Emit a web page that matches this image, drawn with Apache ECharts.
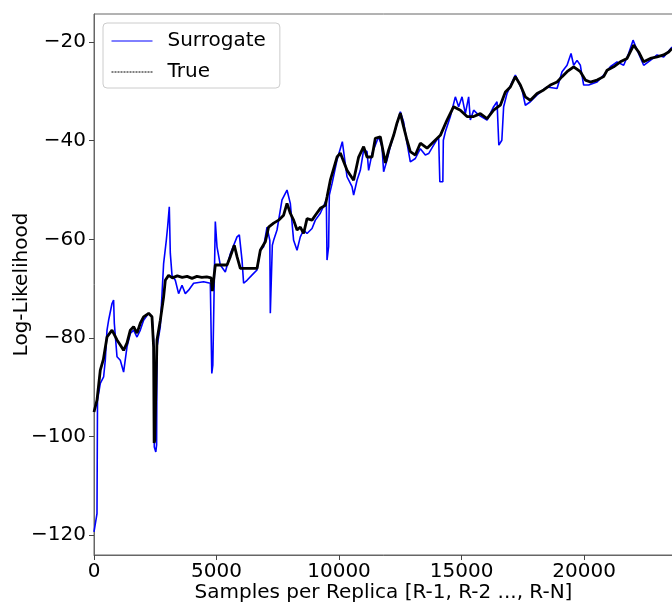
<!DOCTYPE html>
<html>
<head>
<meta charset="utf-8">
<script src="https://cdn.jsdelivr.net/npm/echarts@6/dist/echarts.min.js"></script>
<style>
  html, body { margin: 0; padding: 0; background: #fff; }
  #main { width: 672px; height: 604px; }
</style>
</head>
<body>
<div id="main"></div>
<script>
// 数据：采样数 / 对数似然
var xTicks = [0, 5000, 10000, 15000, 20000];
var yTicks = [-120, -100, -80, -60, -40, -20];

var surrogateX = [0, 122, 143, 257, 392, 461, 531, 596, 735, 800, 829, 939, 1073, 1208, 1347, 1482, 1616, 1755, 1890, 2024, 2229, 2367, 2433, 2461, 2522, 2555, 2571, 2706, 2841, 2951, 3004, 3073, 3114, 3184, 3318, 3453, 3592, 3727, 3861, 4065, 4473, 4747, 4808, 4849, 4951, 5020, 5155, 5359, 5563, 5837, 5931, 6041, 6106, 6245, 6514, 6653, 6788, 6922, 7061, 7176, 7196, 7237, 7278, 7331, 7469, 7673, 7877, 8012, 8147, 8286, 8420, 8555, 8694, 8898, 9033, 9237, 9482, 9510, 9575, 9604, 9714, 9918, 10135, 10326, 10530, 10596, 10735, 10869, 11004, 11143, 11208, 11347, 11616, 11755, 11820, 11959, 12094, 12298, 12502, 12637, 12775, 12910, 13114, 13318, 13522, 13657, 13861, 14065, 14114, 14237, 14257, 14339, 14543, 14747, 14882, 15020, 15155, 15290, 15359, 15494, 15698, 16041, 16310, 16449, 16522, 16645, 16718, 16857, 17061, 17196, 17469, 17604, 17808, 18082, 18490, 18898, 19102, 19306, 19469, 19576, 19714, 19849, 19984, 20188, 20531, 20800, 21073, 21347, 21616, 21820, 22000, 22163, 22433, 22706, 22980, 23249, 23592];
var surrogateY = [-119.3, -115.6, -92.6, -89.2, -87.9, -84.5, -78.4, -76.4, -73.0, -72.3, -77.0, -83.8, -84.5, -86.9, -81.8, -79.1, -78.4, -79.8, -78.4, -76.4, -75.0, -75.7, -80.4, -102.1, -103.1, -101.7, -81.8, -77.7, -64.9, -60.2, -57.5, -53.4, -62.8, -67.3, -68.3, -71.0, -69.3, -71.0, -70.3, -68.9, -68.6, -68.9, -87.2, -85.5, -56.4, -61.5, -65.2, -66.6, -62.9, -59.5, -59.1, -64.2, -68.9, -68.3, -66.9, -66.2, -62.2, -61.5, -57.5, -60.2, -75.0, -75.4, -61.2, -60.2, -58.1, -52.0, -50.0, -52.7, -60.2, -62.2, -59.5, -58.1, -58.8, -57.8, -56.1, -54.7, -52.0, -64.2, -61.5, -51.0, -48.7, -43.9, -40.2, -47.3, -49.3, -51.0, -48.0, -46.0, -41.9, -42.2, -46.0, -42.6, -39.2, -41.2, -46.3, -43.9, -41.2, -37.8, -34.1, -36.2, -40.5, -44.3, -43.6, -41.6, -42.9, -42.6, -40.9, -39.2, -48.3, -48.3, -39.9, -38.2, -35.1, -31.1, -33.1, -31.1, -34.5, -31.1, -35.8, -33.8, -34.8, -35.8, -33.1, -32.1, -40.9, -39.9, -33.1, -30.4, -28.1, -26.7, -29.7, -32.8, -32.1, -30.7, -29.1, -29.4, -26.0, -24.7, -22.3, -24.7, -23.7, -24.7, -28.7, -28.7, -28.1, -26.7, -25.0, -24.0, -24.7, -22.3, -19.6, -21.6, -24.7, -23.7, -22.6, -23.0, -21.0];

var trueX = [0, 122, 257, 380, 531, 735, 939, 1073, 1208, 1347, 1482, 1616, 1755, 1890, 2024, 2229, 2367, 2433, 2455, 2480, 2571, 2706, 2841, 2910, 3045, 3200, 3400, 3600, 3800, 4000, 4200, 4400, 4600, 4780, 4830, 4951, 5429, 5563, 5726, 5837, 5971, 6653, 6788, 6992, 7126, 7331, 7534, 7739, 7877, 8012, 8147, 8286, 8420, 8555, 8694, 8898, 9033, 9237, 9441, 9510, 9645, 9918, 10053, 10326, 10596, 10800, 11004, 11143, 11347, 11481, 11686, 11890, 12024, 12229, 12367, 12502, 12637, 12775, 12910, 13114, 13318, 13592, 13861, 14135, 14408, 14678, 14951, 15224, 15494, 15767, 16041, 16310, 16584, 16788, 16992, 17196, 17400, 17604, 17808, 18082, 18351, 18624, 18898, 19102, 19306, 19576, 19849, 20053, 20257, 20531, 20800, 20939, 21208, 21482, 21755, 22024, 22229, 22433, 22706, 22980, 23249, 23453, 23592];
var trueY = [-95.0, -92.6, -86.5, -84.4, -79.8, -78.4, -80.4, -81.4, -82.5, -81.0, -78.4, -77.7, -79.0, -77.0, -75.7, -75.0, -75.7, -81.8, -101.3, -100.7, -80.4, -76.4, -71.7, -68.3, -67.3, -67.8, -67.4, -67.7, -67.5, -67.9, -67.5, -67.7, -67.6, -67.8, -70.5, -65.2, -65.2, -63.5, -61.2, -63.5, -65.9, -65.9, -62.2, -60.5, -57.5, -56.7, -56.1, -55.1, -52.7, -54.7, -56.1, -58.1, -57.5, -58.8, -55.8, -56.1, -55.1, -53.7, -53.1, -51.4, -48.0, -43.3, -42.5, -46.0, -48.0, -43.3, -41.2, -43.3, -43.3, -39.5, -39.2, -44.5, -41.9, -38.9, -36.4, -34.4, -37.2, -39.9, -42.2, -42.9, -40.5, -41.5, -40.2, -38.9, -35.8, -33.1, -33.8, -35.1, -35.1, -34.5, -35.5, -33.8, -32.8, -30.1, -29.1, -27.0, -28.7, -31.1, -31.8, -30.4, -29.7, -28.7, -28.1, -27.0, -26.0, -25.0, -26.0, -27.7, -28.1, -27.7, -27.0, -25.7, -25.0, -24.0, -23.3, -20.6, -22.0, -24.0, -23.3, -23.0, -22.6, -22.0, -21.3];

function pairs(xs, ys) {
  return xs.map(function (x, i) { return [x, ys[i]]; });
}

var myChart = echarts.init(document.getElementById('main'));
var font = 'DejaVu Sans';
var fs = 20;

var option = {
  animation: false,
  backgroundColor: '#fff',
  grid: {
    left: 94, right: -1, top: 14, bottom: 49,
    containLabel: false,
    outerBoundsMode: 'none',
    show: true, borderColor: '#666', borderWidth: 1
  },
  legend: {
    orient: 'vertical',
    left: 103, top: 23,
    padding: [8, 14, 6, 8],
    itemGap: 11,
    itemWidth: 41,
    itemHeight: 14,
    backgroundColor: '#fff',
    borderColor: '#cccccc',
    borderWidth: 1,
    borderRadius: 4,
    textStyle: { fontFamily: font, fontSize: fs, color: '#000', padding: [0, 0, 0, 10] },
    data: [
      { name: 'Surrogate', lineStyle: { width: 1, color: '#0000ff' }, itemStyle: { color: '#0000ff', opacity: 0 } },
      { name: 'True', lineStyle: { width: 1, type: [2, 1], color: '#000' }, itemStyle: { color: '#000', opacity: 0 } }
    ]
  },
  xAxis: {
    type: 'value',
    min: 0, max: 23630,
    name: 'Samples per Replica [R-1, R-2 ..., R-N]',
    nameLocation: 'middle',
    nameGap: 28,
    nameMoveOverlap: false,
    nameTextStyle: { fontFamily: font, fontSize: fs, color: '#000' },
    splitLine: { show: false },
    axisLine: { show: true, lineStyle: { color: '#666', width: 1 } },
    axisTick: { show: true, inside: false, length: 5, lineStyle: { color: '#444' }, customValues: xTicks },
    axisLabel: {
      fontFamily: font, fontSize: fs, color: '#000', margin: 7, customValues: xTicks,
      formatter: function (v) { return String(v); }
    }
  },
  yAxis: {
    type: 'value',
    min: -124, max: -14.3,
    name: 'Log-Likelihood',
    nameLocation: 'middle',
    nameRotate: 90,
    nameGap: 62,
    nameMoveOverlap: false,
    nameTextStyle: { fontFamily: font, fontSize: fs, color: '#000' },
    splitLine: { show: false },
    axisLine: { show: true, lineStyle: { color: '#666', width: 1 } },
    axisTick: { show: true, inside: false, length: 5, lineStyle: { color: '#444' }, customValues: yTicks },
    axisLabel: {
      fontFamily: font, fontSize: fs, color: '#000', margin: 8, customValues: yTicks,
      formatter: function (v) { return String(v).replace('-', '\u2212'); }
    }
  },
  series: [
    {
      name: 'Surrogate',
      type: 'line',
      symbol: 'none',
      data: pairs(surrogateX, surrogateY),
      lineStyle: { color: '#0000ff', width: 1.6 },
      itemStyle: { color: '#0000ff' }
    },
    {
      name: 'True',
      type: 'line',
      symbol: 'none',
      data: pairs(trueX, trueY),
      lineStyle: { color: '#000', width: 2.8 },
      itemStyle: { color: '#000' }
    }
  ]
};

myChart.setOption(option);
</script>
</body>
</html>
